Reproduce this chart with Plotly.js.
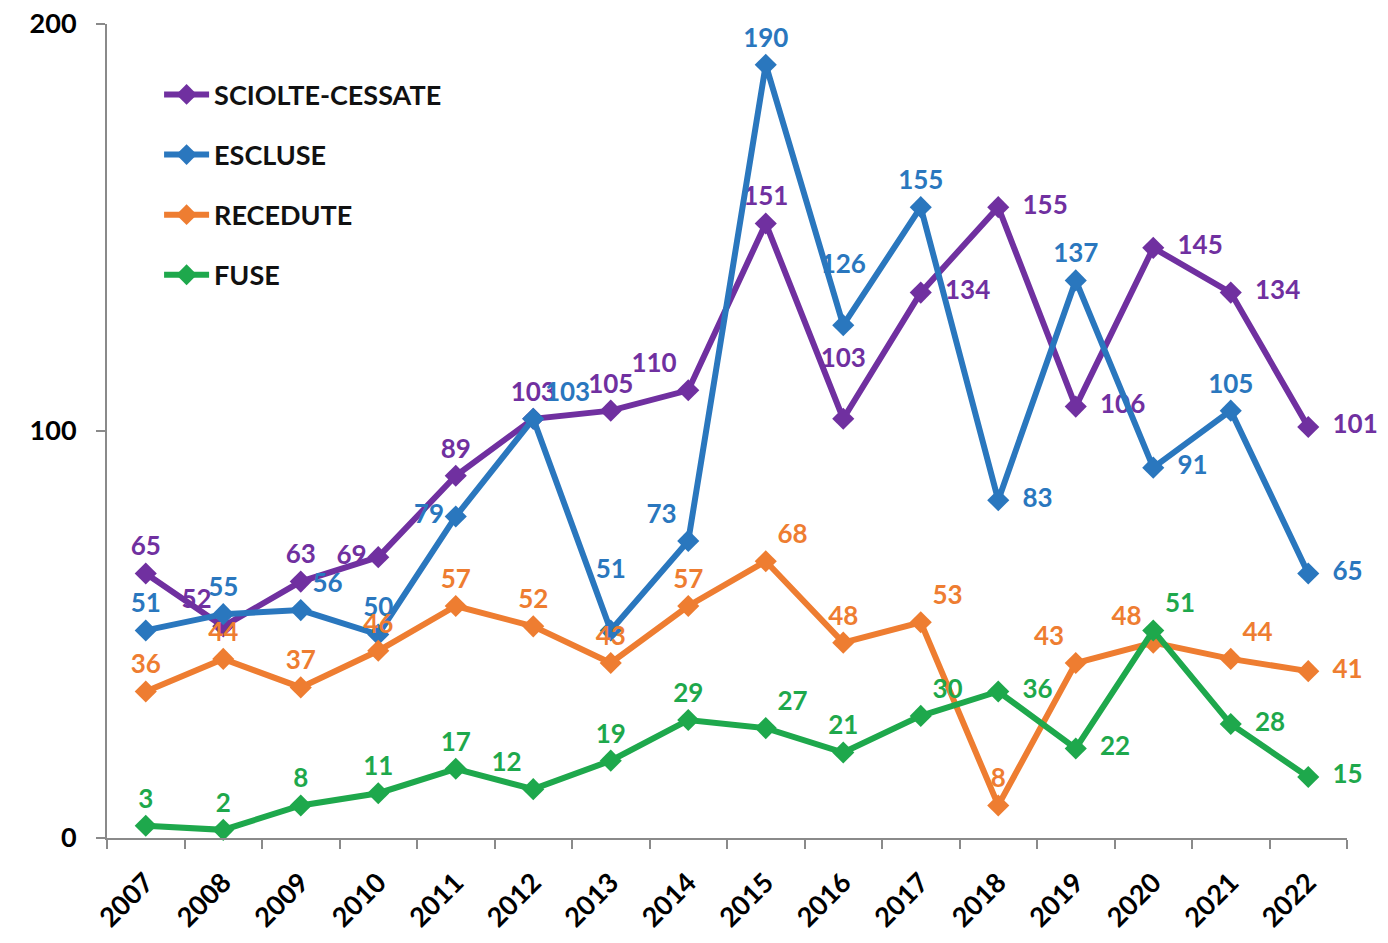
<!DOCTYPE html>
<html>
<head>
<meta charset="utf-8">
<script src="https://cdn.plot.ly/plotly-3.0.1.min.js"></script>
<style>html,body{margin:0;padding:0;background:#fff;}#chart{width:1388px;height:943px;}</style>
</head>
<body>
<div id="chart"></div>
<script>
const years = ["2007","2008","2009","2010","2011","2012","2013","2014","2015","2016","2017","2018","2019","2020","2021","2022"];
const seriesNames = ["SCIOLTE-CESSATE","ESCLUSE","RECEDUTE","FUSE"];
const sciolteCessate = [65,52,63,69,89,103,105,110,151,103,134,155,106,145,134,101];
const escluse = [51,55,56,50,79,103,51,73,190,126,155,83,137,91,105,65];
const recedute = [36,44,37,46,57,52,43,57,68,48,53,8,43,48,44,41];
const fuse = [3,2,8,11,17,12,19,29,27,21,30,36,22,51,28,15];
const yTicks = [0,100,200];

const colors = ["#7030A0","#2A77BE","#EE7D31","#1EA84C"];
// H = label raised higher above the point
const TC="top center", TL="top left", TR="top right", MR="middle right", ML="middle left", H="high";
const positions = [
  [TC,TL,TC,ML,TC,TC,TC,TL,TC,H,MR,MR,MR,MR,MR,MR],
  [TC,TC,TR,TC,ML,TR,H,TL,TC,H,TC,MR,TC,MR,TC,MR],
  [TC,TC,TC,TC,TC,TC,TC,TC,TR,TC,TR,TC,TL,TL,TR,MR],
  [TC,TC,TC,TC,TC,TL,TC,TC,TR,TC,TR,MR,MR,TR,MR,MR]
];
const values = [sciolteCessate, escluse, recedute, fuse];
const FONT = "Lato, 'Open Sans', sans-serif";
const NB = "\u00A0\u00A0";

function labelText(v, p){
  if (p===MR) return NB + v;
  if (p===H) return v + "<br>\u00A0";
  return String(v);
}

const traces = values.map((v,i)=>({
  type:"scatter",
  mode:"lines+markers+text",
  name: seriesNames[i],
  legendgroup: "g"+i,
  x: years,
  y: v,
  text: v.map((val,j)=>labelText(val, positions[i][j])),
  textposition: positions[i].map(p=> p===H ? TC : p),
  textfont:{family:FONT,size:26,color:colors[i],weight:700},
  line:{color:colors[i],width:6},
  marker:{symbol:"diamond",size:17,color:colors[i]},
  cliponaxis:false,
  hoverinfo:"x+y"
}));

const layout = {
  width:1388, height:943,
  margin:{l:107,r:41,t:24,b:105},
  paper_bgcolor:"#fff", plot_bgcolor:"#fff",
  font:{family:FONT,color:"#000"},
  showlegend:true,
  legend:{
    x:0.042, y:0.943, xanchor:"left", yanchor:"top",
    bgcolor:"rgba(255,255,255,0)",
    font:{family:FONT,size:27,color:"#111",weight:700},
    tracegroupgap:22,
    itemwidth:45
  },
  xaxis:{
    type:"category",
    range:[-0.5,15.5],
    showline:true, linecolor:"#8a8a8a", linewidth:2,
    ticks:"outside", tickson:"boundaries", ticklen:9, tickcolor:"#8a8a8a", tickwidth:2,
    tickangle:-45,
    ticklabelstandoff:16,
    tickfont:{family:FONT,size:27,color:"#000",weight:700},
    showgrid:false, zeroline:false
  },
  yaxis:{
    range:[0,200],
    tickvals:yTicks, ticktext:yTicks.map(String),
    showline:true, linecolor:"#8a8a8a", linewidth:2,
    ticks:"outside", ticklen:9, tickcolor:"#8a8a8a", tickwidth:2,
    ticklabelstandoff:14,
    tickfont:{family:FONT,size:27,color:"#000",weight:700},
    showgrid:false, zeroline:false
  }
};

Plotly.newPlot("chart", traces, layout, {displayModeBar:false, staticPlot:true});
</script>
</body>
</html>
